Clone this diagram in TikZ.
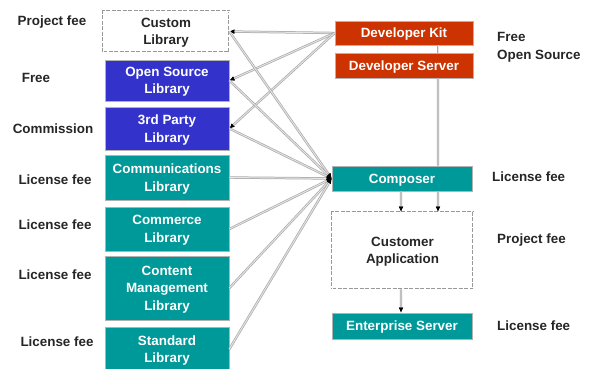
\documentclass[tikz,border=0pt]{standalone}
\usepackage{fontspec}
\setmainfont{Liberation Sans}
\usetikzlibrary{arrows.meta}
\definecolor{libblue}{RGB}{51,51,204}
\definecolor{libteal}{RGB}{0,153,153}
\definecolor{kitred}{RGB}{204,51,0}

\begin{document}
\begin{tikzpicture}[x=1bp,y=-1bp,
  box/.style={draw=gray!60, line width=0.8pt, text=white, align=center, inner sep=0pt,
    text depth=0pt, font=\fontsize{13.4bp}{17.5bp}\selectfont\bfseries},
  libbox/.style={box, minimum width=124bp},
  prodbox/.style={box, minimum width=140bp, minimum height=25bp, text height=9.6bp},
  dashbox/.style={draw=gray!80, double=white, double distance=0.8pt, line width=0.7pt,
    dash pattern=on 4bp off 1.5bp, text=black!85, align=center, inner sep=0pt,
    text depth=0pt, font=\fontsize{13.4bp}{17.5bp}\selectfont\bfseries},
  fee/.style={text=black!85, align=left, inner sep=0pt,
    font=\fontsize{13.4bp}{18bp}\selectfont\bfseries},
  link/.style={draw=gray!20, line width=0.9pt, preaction={draw=gray!65, line width=2.4pt}},
  tip/.style={-{Latex[black,length=5bp,width=4.5bp]}},
]
\useasboundingbox (0,0) rectangle (590,368);
\fill[white] (0,0) rectangle (590,368);

% Libraries on the left
\node[dashbox, minimum width=126bp, minimum height=41bp] (custom) at (166,31.5) {Custom\\Library};
\node[libbox, fill=libblue, minimum height=41bp] (opensrc) at (167,80.5) {Open Source\\Library};
\node[libbox, fill=libblue, minimum height=43bp] (thirdparty) at (167,128.5) {3rd Party\\Library};
\node[libbox, fill=libteal, minimum height=45bp] (comms) at (167,177.5) {Communications\\Library};
\node[libbox, fill=libteal, minimum height=44bp] (commerce) at (167,229) {Commerce\\Library};
\node[libbox, fill=libteal, minimum height=64bp] (content) at (167,288) {Content\\Management\\Library};
\node[libbox, fill=libteal, minimum height=44bp] (standard) at (167,349) {Standard\\Library};

% Products on the right
\node[prodbox, fill=kitred, minimum width=138bp, minimum height=24bp] (devkit) at (404,33) {Developer Kit};
\node[prodbox, fill=kitred, minimum width=138bp] (devserver) at (404,65.5) {Developer Server};
\node[prodbox, fill=libteal] (composer) at (402,178.5) {Composer};
\node[dashbox, minimum width=141bp, minimum height=77bp] (custapp) at (402.5,250.5) {Customer\\Application};
\node[prodbox, fill=libteal, minimum height=26bp] (enterprise) at (402,326) {Enterprise Server};

% Fees
\node[fee] (feecustom) at (52,22) {Project fee};
\node[fee] (feeopen) at (36,78) {Free};
\node[fee] (feethird) at (53,129) {Commission};
\node[fee] (feecomms) at (55,180) {License fee};
\node[fee] (feecommerce) at (55,225) {License fee};
\node[fee] (feecontent) at (55,275) {License fee};
\node[fee] (feestandard) at (57,342) {License fee};
\node[fee, anchor=west] (feekit) at (497,47) {Free\\Open Source};
\node[fee, anchor=west] (feecomposer) at (492,177) {License fee};
\node[fee, anchor=west] (feeapp) at (497,240) {Project fee};
\node[fee, anchor=west] (feeenterprise) at (497,326) {License fee};

% Developer Kit to the libraries
\draw[link, tip] (devkit.west) -- (custom.east);
\draw[link, tip] (devkit.west) -- (opensrc.east);
\draw[link, tip] (devkit.west) -- (thirdparty.east);

% Libraries to the Composer
\draw[link, tip] (custom.east) -- (composer.west);
\draw[link, tip] (opensrc.east) -- (composer.west);
\draw[link, tip] (thirdparty.east) -- (composer.west);
\draw[link, tip] (comms.east) -- (composer.west);
\draw[link, tip] (commerce.east) -- (composer.west);
\draw[link, tip] (content.east) -- (composer.west);
\draw[link, tip] (standard.east) -- (composer.west);

% Vertical chain
\draw[link] ([xshift=34bp]devkit.south) -- ([xshift=34bp]devserver.north);
\draw[link] ([xshift=34bp]devserver.south) -- ([xshift=36bp]composer.north);
\draw[link, tip] ([xshift=-1bp]composer.south) -- ([xshift=-1.5bp]custapp.north);
\draw[link, tip] ([xshift=36bp]composer.south) -- ([xshift=35.5bp]custapp.north);
\draw[link, tip] ([xshift=-1.5bp]custapp.south) -- ([xshift=-1bp]enterprise.north);
\end{tikzpicture}
\end{document}
